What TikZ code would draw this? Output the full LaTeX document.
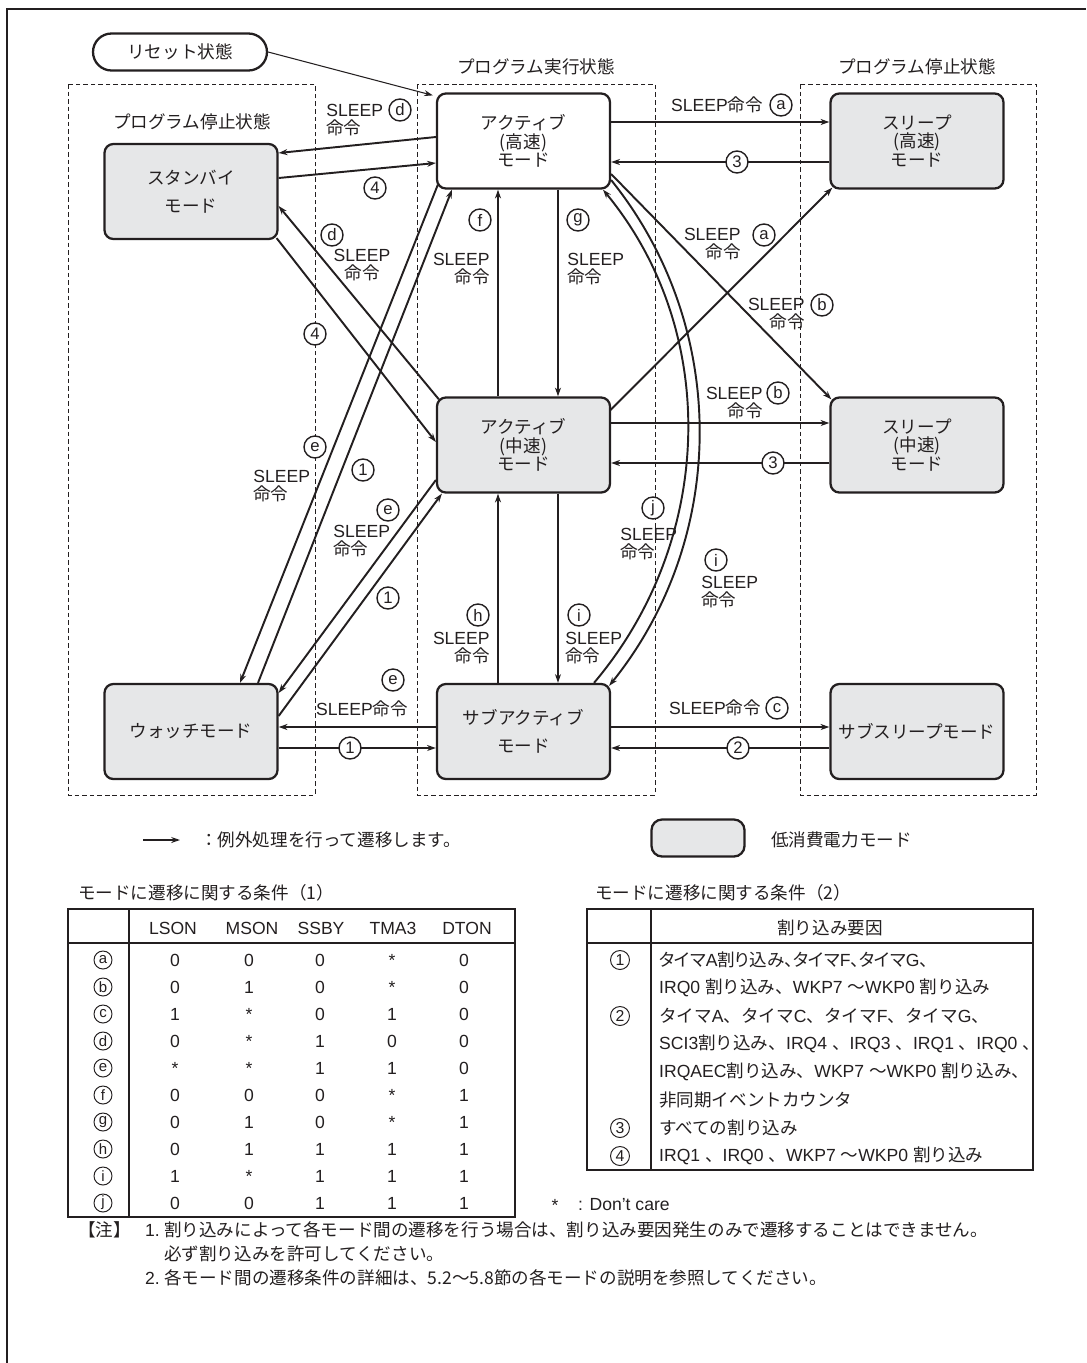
\documentclass[tikz,border=0pt]{standalone}
\usepackage{fontspec}
\setmainfont{Liberation Sans}
\newfontfamily\jp{Noto Sans CJK JP}
\newfontfamily\jpp[RawFeature=+palt]{Noto Sans CJK JP}
\usetikzlibrary{arrows.meta,calc}
\definecolor{ink}{RGB}{35,31,32}
\definecolor{lpgray}{RGB}{230,231,232}
\newcommand\J[1]{{\jp #1}}
\newcommand\JP[1]{{\jpp #1}}

\begin{document}
\begin{tikzpicture}[x=0.02cm, y=-0.02cm,
    every node/.style={text=ink, font=\fontsize{10}{10}\selectfont},
    modebox/.style={draw=ink, line width=1.3pt, rounded corners=5pt, fill=lpgray, minimum width=3.46cm, minimum height=1.9cm, inner sep=0pt, align=center, font=\jp\fontsize{10}{10.6}\selectfont},
    runbox/.style={modebox, fill=white},
    loose/.style={font=\jp\fontsize{10}{16}\selectfont},
    zone/.style={draw=ink, line width=0.5pt, dash pattern=on 2.6pt off 1.7pt},
    jtext/.style={font=\jp\fontsize{10}{10}\selectfont},
    tag/.style={circle, draw=ink, line width=0.8pt, fill=white, inner sep=0pt, minimum size=0.44cm, font=\fontsize{9.5}{9.5}\selectfont},
    smalltag/.style={tag, line width=0.55pt, minimum size=0.36cm, font=\fontsize{8.5}{8.5}\selectfont},
    cmd/.style={inner sep=0pt, font=\fontsize{10}{10}\selectfont},
    arrow/.style={draw=ink, line width=1.1pt, -{Stealth[length=5pt,width=3.4pt]}},
    thinarrow/.style={arrow, line width=0.75pt},
    rule/.style={draw=ink, line width=0.6pt},
]
\useasboundingbox (0,0) rectangle (1086,1363);
\draw[ink, line width=1.4pt] (7,1363) -- (7,9) -- (1086,9);

% state zones
\draw[zone] (68,84) rectangle (315,795);
\draw[zone] (417,84) rectangle (655,795);
\draw[zone] (800,84) rectangle (1036,795);
\node[jtext] (runlbl) at (536,67) {プログラム実行状態};
\node[jtext] (stoplblR) at (917,67) {プログラム停止状態};
\node[jtext] (stoplblL) at (192,122) {プログラム停止状態};

% modes
\node[draw=ink, line width=1.3pt, rounded corners=0.37cm, minimum width=3.48cm, minimum height=0.74cm, fill=white, jtext] (reset) at (180,52) {リセット状態};
\node[runbox] (acth) at (523.5,141) {アクティブ\\(高速)\\モード};
\node[modebox] (sleeph) at (917,141) {スリープ\\(高速)\\モード};
\node[modebox, loose] (standby) at (191,191.5) {スタンバイ\\モード};
\node[modebox] (actm) at (523.5,445) {アクティブ\\(中速)\\モード};
\node[modebox] (sleepm) at (917,445) {スリープ\\(中速)\\モード};
\node[modebox] (watch) at (191,731.5) {ウォッチモード};
\node[modebox, loose] (subact) at (523.5,731.5) {サブアクティブ\\モード};
\node[modebox] (subsleep) at (917,731.5) {サブスリープモード};

% top row
\draw[arrow, line width=0.6pt] (reset.east) -- ($(acth.north west)+(-3,3)$);
\draw[arrow] (acth.east |- 0,122) -- (sleeph.west |- 0,122);
\draw[arrow] (sleeph.west |- 0,162) -- (acth.east |- 0,162);
\node[tag] (t3a) at (737,162) {3};
\node[cmd] (sa1) at (717,105) {SLEEP\J{命令}};
\node[tag] (ta1) at (781,105) {a};
\draw[arrow] (acth.west |- 0,137) -- (standby.east |- 0,153);
\draw[arrow] (standby.east |- 0,178) -- (acth.west |- 0,163);
\node[cmd, anchor=west, align=left] (sd1) at (326,120) {SLEEP\\\J{命令}};
\node[tag] (td1) at (400,110) {d};
\node[tag] (t41) at (375,188) {4};

% standby <-> active (mid)
\draw[arrow] ($(actm.north west)+(3,3)$) -- (standby.east |- 0,206);
\draw[arrow] ($(standby.south east)+(-2,-2)$) -- (actm.west |- 0,442);
\node[tag] (td2) at (332,235) {d};
\node[cmd, align=center] (sd2) at (362,265) {SLEEP\\\J{命令}};
\node[tag] (t42) at (315,334) {4};

% cross to sleep modes
\draw[arrow] ($(actm.north east)+(-1,14)$) -- ($(sleeph.south west)+(3,-2)$);
\draw[arrow] (acth.east |- 0,174) -- ($(sleepm.north west)+(2,3)$);
\node[cmd, anchor=east, align=right] (sa2) at (741,244) {SLEEP\\\J{命令}};
\node[tag] (ta2) at (764,235) {a};
\node[cmd, anchor=east, align=right] (sb1) at (805,314) {SLEEP\\\J{命令}};
\node[tag] (tb1) at (822,305) {b};

% middle row
\draw[arrow] (actm.east |- 0,423) -- (sleepm.west |- 0,423);
\draw[arrow] (sleepm.west |- 0,463) -- (actm.east |- 0,463);
\node[tag] (t3b) at (773,463) {3};
\node[cmd, anchor=east, align=right] (sb2) at (763,403) {SLEEP\\\J{命令}};
\node[tag] (tb2) at (778,393) {b};

% verticals
\draw[thinarrow] (actm.north -| 498,0) -- (acth.south -| 498,0);
\draw[thinarrow] (acth.south -| 558,0) -- (actm.north -| 558,0);
\draw[thinarrow] (subact.north -| 498,0) -- (actm.south -| 498,0);
\draw[thinarrow] (actm.south -| 558,0) -- (subact.north -| 558,0);
\node[tag] (tf) at (480,220) {f};
\node[cmd, anchor=east, align=right] (sf) at (490,269) {SLEEP\\\J{命令}};
\node[tag] (tg) at (578,220) {g};
\node[cmd, anchor=west, align=left] (sg) at (567,269) {SLEEP\\\J{命令}};
\node[tag] (th) at (478,615) {h};
\node[cmd, anchor=east, align=right] (sh) at (490,648) {SLEEP\\\J{命令}};
\node[tag] (ti1) at (579,615) {i};
\node[cmd, anchor=west, align=left] (si1) at (565,648) {SLEEP\\\J{命令}};

% arcs between high speed and sub active
\draw[arrow] (subact.north -| 594,0) .. controls (714,541) and (721,333) .. (acth.south -| 603,0);
\draw[arrow] (acth.east |- 0,180) .. controls (730,328) and (728,538) .. ($(subact.north east)+(-2,3)$);
\node[tag] (tj) at (653,508) {j};
\node[cmd, anchor=west, align=left] (sj) at (620,544) {SLEEP\\\J{命令}};
\node[tag] (ti2) at (716,560) {i};
\node[cmd, anchor=west, align=left] (si2) at (701,592) {SLEEP\\\J{命令}};

% watch diagonals
\draw[arrow] ($(acth.south west)+(2,-5)$) -- (watch.north -| 240,0);
\draw[arrow] (watch.north -| 258,0) -- (acth.south -| 452,0);
\node[tag] (te1) at (315,447) {e};
\node[cmd, anchor=west, align=left] (se1) at (253,486) {SLEEP\\\J{命令}};
\node[tag] (t11) at (363,470) {1};
\draw[arrow] (actm.west |- 0,480) -- (watch.east |- 0,693);
\draw[arrow] (watch.east |- 0,716) -- ($(actm.south west)+(6,0)$);
\node[tag] (te2) at (388,510) {e};
\node[cmd, anchor=west, align=left] (se2) at (333,541) {SLEEP\\\J{命令}};
\node[tag] (t12) at (388,598) {1};

% bottom row
\draw[arrow] (subact.west |- 0,727) -- (watch.east |- 0,727);
\draw[arrow] (watch.east |- 0,748) -- (subact.west |- 0,748);
\node[tag] (t13) at (350,748) {1};
\node[tag] (te3) at (393,680) {e};
\node[cmd] (se3) at (362,709) {SLEEP\J{命令}};
\draw[arrow] (subact.east |- 0,727) -- (subsleep.west |- 0,727);
\draw[arrow] (subsleep.west |- 0,748) -- (subact.east |- 0,748);
\node[tag] (t2) at (738,748) {2};
\node[cmd] (sc) at (715,708) {SLEEP\J{命令}};
\node[tag] (tc) at (777,708) {c};

% legend
\coordinate (legA) at (143,840);
\coordinate (legB) at (180,840);
\draw[arrow] (legA) -- (legB);
\node[jtext, anchor=west] (legtext) at (194,840) {：例外処理を行って遷移します。};
\node[modebox, minimum width=1.86cm, minimum height=0.74cm, rounded corners=6pt] (legbox) at (698,838) {};
\node[jtext, anchor=west] (legboxtext) at (765,840) {低消費電力モード};

% table 1
\node[jtext, anchor=west] (cond1) at (72,893) {モードに遷移に関する条件（1）};
\draw[rule] (68,909) rectangle (515,1217);
\draw[rule] (68,943) -- (515,943);
\draw[rule] (129,909) -- (129,1217);
\foreach \col/\cx in {LSON/173, MSON/252, SSBY/321, TMA3/393, DTON/467}
  \node (hd\col) at (\cx,928) {\col};
\foreach \tg/\va/\vb/\vc/\vd/\ve [count=\r from 0] in {a/0/0/0/*/0, b/0/1/0/*/0, c/1/*/0/1/0, d/0/*/1/0/0, e/*/*/1/1/0, f/0/0/0/*/1, g/0/1/0/*/1, h/0/1/1/1/1, i/1/*/1/1/1, j/0/0/1/1/1} {
  \node[smalltag] (row\tg) at (103,960+27*\r) {\tg};
  \node (row\tg-1) at (175,960+27*\r) {\va};
  \node (row\tg-2) at (249,960+27*\r) {\vb};
  \node (row\tg-3) at (320,960+27*\r) {\vc};
  \node (row\tg-4) at (392,960+27*\r) {\vd};
  \node (row\tg-5) at (464,960+27*\r) {\ve};
}
\node (star) at (555,1205) {*};
\node[anchor=west] (dontcare) at (572,1205) {: Don't care};

% table 2
\node[jtext, anchor=west] (cond2) at (589,893) {モードに遷移に関する条件（2）};
\draw[rule] (587,909) rectangle (1033,1170);
\draw[rule] (587,943) -- (1033,943);
\draw[rule] (651,909) -- (651,1170);
\node[jtext] (cause) at (830,928) {割り込み要因};
\node[smalltag, minimum size=0.38cm, font=\fontsize{9}{9}\selectfont] (c1) at (620,960) {1};
\node[smalltag, minimum size=0.38cm, font=\fontsize{9}{9}\selectfont] (c2) at (620,1016) {2};
\node[smalltag, minimum size=0.38cm, font=\fontsize{9}{9}\selectfont] (c3) at (620,1128) {3};
\node[smalltag, minimum size=0.38cm, font=\fontsize{9}{9}\selectfont] (c4) at (620,1156) {4};
\node[anchor=west] (c1a) at (653,960) {\JP{タイマ}A\JP{割り込み、タイマ}F\JP{、タイマ}G\JP{、}};
\node[anchor=west] (c1b) at (653,988) {IRQ0 \J{割り込み、}WKP7 \J{～}WKP0 \J{割り込み}};
\node[anchor=west] (c2a) at (653,1016) {\J{タイマ}A\J{、タイマ}C\J{、タイマ}F\J{、タイマ}G\J{、}};
\node[anchor=west] (c2b) at (653,1044) {SCI3\J{割り込み、}IRQ4 \J{、}IRQ3 \J{、}IRQ1 \J{、}IRQ0 \J{、}};
\node[anchor=west] (c2c) at (653,1072) {IRQAEC\J{割り込み、}WKP7 \J{～}WKP0 \J{割り込み、}};
\node[anchor=west] (c2d) at (653,1100) {\J{非同期イベントカウンタ}};
\node[anchor=west] (c3a) at (653,1128) {\J{すべての割り込み}};
\node[anchor=west] (c4a) at (653,1156) {IRQ1 \J{、}IRQ0 \J{、}WKP7 \J{～}WKP0 \J{割り込み}};

% notes
\node[jtext, anchor=west] (note) at (72,1230) {【注】};
\node[anchor=west] (n1) at (139,1230) {1.};
\node[jtext, anchor=west] (n1a) at (158,1230) {割り込みによって各モード間の遷移を行う場合は、割り込み要因発生のみで遷移することはできません。};
\node[jtext, anchor=west] (n1b) at (158,1254) {必ず割り込みを許可してください。};
\node[anchor=west] (n2) at (139,1278) {2.};
\node[jtext, anchor=west] (n2a) at (158,1278) {各モード間の遷移条件の詳細は、5.2～5.8節の各モードの説明を参照してください。};
\end{tikzpicture}
\end{document}
